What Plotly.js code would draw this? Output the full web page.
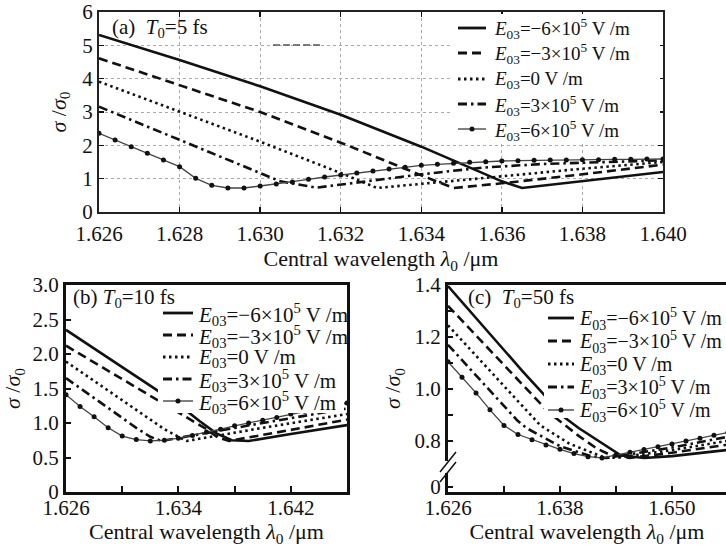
<!DOCTYPE html>
<html>
<head>
<meta charset="utf-8">
<script src="https://cdn.plot.ly/plotly-3.0.1.min.js"></script>
<style>
html,body{margin:0;padding:0;background:#fff;}
#chart{width:726px;height:547px;}
</style>
</head>
<body>
<div id="chart"></div>
<script>
// ---------- DATA ----------
const legendLabels = [
  '<i>E</i><sub>03</sub>=−6×10<sup>5</sup> V /m',
  '<i>E</i><sub>03</sub>=−3×10<sup>5</sup> V /m',
  '<i>E</i><sub>03</sub>=0 V /m',
  '<i>E</i><sub>03</sub>=3×10<sup>5</sup> V /m',
  '<i>E</i><sub>03</sub>=6×10<sup>5</sup> V /m'
];
const panelLabels = ['(a)  <i>T</i><sub>0</sub>=5 fs', '(b) <i>T</i><sub>0</sub>=10 fs', '(c)  <i>T</i><sub>0</sub>=50 fs'];

// Panel (a) T0 = 5 fs
const lamA_m6 = [1.626, 1.628, 1.630, 1.632, 1.634, 1.635, 1.636, 1.6365, 1.638, 1.640];
const sigA_m6 = [5.31, 4.56, 3.77, 2.92, 1.96, 1.45, 0.92, 0.72, 0.92, 1.20];
const lamA_m3 = [1.626, 1.628, 1.630, 1.632, 1.633, 1.634, 1.6348, 1.636, 1.638, 1.640];
const sigA_m3 = [4.61, 3.80, 3.00, 2.08, 1.58, 1.10, 0.72, 0.86, 1.13, 1.42];
const lamA_0 = [1.626, 1.628, 1.630, 1.631, 1.632, 1.6329, 1.634, 1.636, 1.638, 1.640];
const sigA_0 = [3.91, 3.02, 2.11, 1.64, 1.17, 0.72, 0.84, 1.07, 1.30, 1.50];
const lamA_3 = [1.626, 1.628, 1.630, 1.6305, 1.6314, 1.633, 1.634, 1.6355, 1.637, 1.640];
const sigA_3 = [3.16, 2.16, 1.16, 0.92, 0.73, 0.98, 1.13, 1.33, 1.44, 1.55];
const lamA_6 = [1.6260, 1.6264, 1.6268, 1.6272, 1.6276, 1.6280, 1.6284, 1.6288, 1.6292, 1.6296,
                1.6300, 1.6304, 1.6308, 1.6312, 1.6316, 1.6320, 1.6324, 1.6328, 1.6332, 1.6336,
                1.6340, 1.6344, 1.6348, 1.6352, 1.6356, 1.6360, 1.6364, 1.6368, 1.6372, 1.6376,
                1.6380, 1.6384, 1.6388, 1.6392, 1.6396, 1.6400];
const sigA_6 = [2.36, 2.16, 1.96, 1.76, 1.56, 1.36, 1.01, 0.80, 0.72, 0.72,
                0.78, 0.84, 0.90, 0.98, 1.05, 1.11, 1.17, 1.23, 1.29, 1.34,
                1.40, 1.43, 1.46, 1.49, 1.51, 1.53, 1.54, 1.55, 1.56, 1.56,
                1.57, 1.57, 1.58, 1.58, 1.59, 1.59];

// Panel (b) T0 = 10 fs
const lamB_m6 = [1.626, 1.630, 1.634, 1.6355, 1.6367, 1.6378, 1.639, 1.642, 1.646];
const sigB_m6 = [2.35, 1.81, 1.27, 1.03, 0.85, 0.75, 0.74, 0.84, 0.97];
const lamB_m3 = [1.626, 1.630, 1.634, 1.635, 1.636, 1.6368, 1.6376, 1.642, 1.646];
const sigB_m3 = [2.12, 1.64, 1.16, 1.04, 0.91, 0.79, 0.74, 0.90, 1.05];
const lamB_0 = [1.626, 1.630, 1.633, 1.634, 1.6346, 1.640, 1.646];
const sigB_0 = [1.89, 1.33, 0.91, 0.80, 0.74, 0.93, 1.13];
const lamB_3 = [1.626, 1.630, 1.631, 1.632, 1.6328, 1.640, 1.646];
const sigB_3 = [1.65, 1.07, 0.93, 0.80, 0.74, 1.00, 1.21];
const lamB_6 = [1.626, 1.627, 1.628, 1.629, 1.630, 1.631, 1.632, 1.633, 1.634, 1.635, 1.636,
                1.637, 1.638, 1.639, 1.640, 1.641, 1.642, 1.643, 1.644, 1.645, 1.646];
const sigB_6 = [1.41, 1.24, 1.09, 0.93, 0.81, 0.76, 0.74, 0.75, 0.78, 0.82, 0.87,
                0.91, 0.96, 1.00, 1.04, 1.08, 1.13, 1.17, 1.21, 1.25, 1.29];

// Panel (c) T0 = 50 fs
const lamC_m6 = [1.626, 1.630, 1.634, 1.6368, 1.6385, 1.640, 1.6425, 1.6445, 1.647, 1.650, 1.6558];
const sigC_m6 = [1.396, 1.232, 1.068, 0.958, 0.89, 0.85, 0.79, 0.745, 0.735, 0.742, 0.765];
const lamC_m3 = [1.626, 1.630, 1.634, 1.6368, 1.640, 1.642, 1.6435, 1.6455, 1.650, 1.6558];
const sigC_m3 = [1.32, 1.168, 1.016, 0.91, 0.82, 0.77, 0.745, 0.735, 0.755, 0.785];
const lamC_0 = [1.626, 1.630, 1.634, 1.6359, 1.639, 1.6425, 1.644, 1.650, 1.6558];
const sigC_0 = [1.245, 1.09, 0.935, 0.86, 0.79, 0.74, 0.735, 0.765, 0.80];
const lamC_3 = [1.626, 1.630, 1.6334, 1.6344, 1.638, 1.6415, 1.643, 1.650, 1.6558];
const sigC_3 = [1.17, 1.015, 0.88, 0.85, 0.78, 0.74, 0.735, 0.775, 0.815];
const lamC_6 = [1.6260, 1.6275, 1.6290, 1.6305, 1.6320, 1.6335, 1.6350, 1.6365, 1.6380, 1.6395, 1.6410,
                1.6425, 1.6440, 1.6455, 1.6470, 1.6485, 1.6500, 1.6515, 1.6530, 1.6545, 1.6560];
const sigC_6 = [1.105, 1.045, 0.985, 0.920, 0.860, 0.825, 0.805, 0.785, 0.768, 0.752, 0.740,
                0.735, 0.746, 0.757, 0.767, 0.778, 0.789, 0.800, 0.811, 0.822, 0.833];

const ticksA_x = [1.626, 1.628, 1.630, 1.632, 1.634, 1.636, 1.638, 1.640];
const ticksA_y = [0, 1, 2, 3, 4, 5, 6];
const ticksB_x = [1.626, 1.634, 1.642];
const ticksB_y = [0, 0.5, 1.0, 1.5, 2.0, 2.5, 3.0];
const ticksB_ytext = ['0', '0.5', '1.0', '1.5', '2.0', '2.5', '3.0'];
const ticksC_x = [1.626, 1.638, 1.650];
const ticksC_y = [0.625, 0.8, 1.0, 1.2, 1.4];
const ticksC_ytext = ['0', '0.8', '1.0', '1.2', '1.4'];

// ---------- STYLE ----------
const W = 726, H = 547;
const FONT = 'Liberation Serif, DejaVu Serif, serif';
const INK = '#111';
const styles = [
  {line: {color: INK, width: 2.6, dash: 'solid'}},
  {line: {color: INK, width: 2.6, dash: '9px,5px'}},
  {line: {color: INK, width: 2.6, dash: '2.5px,3.5px'}},
  {line: {color: INK, width: 2.6, dash: '9px,4px,2.5px,4px'}},
  {line: {color: '#444', width: 1.3, dash: 'solid'}, marker: {size: 5, color: INK}}
];

function tr(x, y, i, xa, ya) {
  const s = styles[i];
  const t = {x: x, y: y, xaxis: xa, yaxis: ya, type: 'scatter',
             mode: s.marker ? 'lines+markers' : 'lines',
             line: s.line, name: legendLabels[i], showlegend: false, hoverinfo: 'skip'};
  if (s.marker) t.marker = s.marker;
  return t;
}

const data = [
  tr(lamA_m6, sigA_m6, 0, 'x', 'y'), tr(lamA_m3, sigA_m3, 1, 'x', 'y'), tr(lamA_0, sigA_0, 2, 'x', 'y'),
  tr(lamA_3, sigA_3, 3, 'x', 'y'), tr(lamA_6, sigA_6, 4, 'x', 'y'),
  tr(lamB_m6, sigB_m6, 0, 'x2', 'y2'), tr(lamB_m3, sigB_m3, 1, 'x2', 'y2'), tr(lamB_0, sigB_0, 2, 'x2', 'y2'),
  tr(lamB_3, sigB_3, 3, 'x2', 'y2'), tr(lamB_6, sigB_6, 4, 'x2', 'y2'),
  tr(lamC_m6, sigC_m6, 0, 'x3', 'y3'), tr(lamC_m3, sigC_m3, 1, 'x3', 'y3'), tr(lamC_0, sigC_0, 2, 'x3', 'y3'),
  tr(lamC_3, sigC_3, 3, 'x3', 'y3'), tr(lamC_6, sigC_6, 4, 'x3', 'y3')
];

const px = v => v / W;
const py = v => 1 - v / H;

const shapes = [];
const annotations = [];

// manual legends: white box, sample lines, labels
function legend(box, sx0, sx1, tx, rows, fs) {
  shapes.push({type: 'rect', xref: 'paper', yref: 'paper', layer: 'above',
    x0: px(box[0]), x1: px(box[1]), y0: py(box[2]), y1: py(box[3]),
    fillcolor: '#fff', line: {width: 0}});
  rows.forEach((ry, i) => {
    const s = styles[i];
    shapes.push({type: 'line', xref: 'paper', yref: 'paper', layer: 'above',
      x0: px(sx0), x1: px(sx1), y0: py(ry), y1: py(ry),
      line: {color: i === 4 ? '#555' : INK, width: i === 4 ? 1.5 : 2.8, dash: s.line.dash}});
    if (i === 4) {
      const cx = (sx0 + sx1) / 2;
      shapes.push({type: 'circle', xref: 'paper', yref: 'paper', layer: 'above',
        x0: px(cx - 2.5), x1: px(cx + 2.5), y0: py(ry + 2.5), y1: py(ry - 2.5),
        fillcolor: INK, line: {width: 0}});
    }
    annotations.push({xref: 'paper', yref: 'paper', x: px(tx), y: py(ry + 1),
      xanchor: 'left', yanchor: 'middle', showarrow: false, text: legendLabels[i],
      font: {family: FONT, size: fs, color: INK}});
  });
}
legend([453, 660, 14, 141], 458, 486, 492, [28, 53, 79, 104, 129], 19);
legend([158, 344, 301, 413], 163, 193, 196, [313, 335, 357, 379, 401], 21);
legend([544, 726, 306, 418], 548, 574, 577, [318, 341, 364, 387, 410], 20);

// panel labels
[[110, 27], [71, 297], [466, 297]].forEach((p, i) => {
  annotations.push({xref: 'paper', yref: 'paper', x: px(p[0]), y: py(p[1] + 1),
    xanchor: 'left', yanchor: 'middle', showarrow: false, text: panelLabels[i],
    font: {family: FONT, size: 21, color: INK}});
});

// axis break marks on panel (c)
shapes.push({type: 'rect', xref: 'paper', yref: 'paper', layer: 'above',
  x0: px(444), x1: px(452), y0: py(473), y1: py(461), fillcolor: '#fff', line: {width: 0}});
shapes.push({type: 'line', xref: 'paper', yref: 'paper', layer: 'above',
  x0: px(440), y0: py(472), x1: px(456), y1: py(452), line: {color: INK, width: 1.5}});
shapes.push({type: 'line', xref: 'paper', yref: 'paper', layer: 'above',
  x0: px(440), y0: py(482), x1: px(456), y1: py(462), line: {color: INK, width: 1.5}});
// small stray dash fragment in panel (a)
shapes.push({type: 'line', xref: 'paper', yref: 'paper', layer: 'above',
  x0: px(273), x1: px(322), y0: py(45), y1: py(45), line: {color: '#555', width: 1.5, dash: '7px,3px'}});

const titleY = '<i>σ</i> /<i>σ</i><sub>0</sub>';
const titleX = 'Central wavelength <i>λ</i><sub>0</sub> /μm';
const tf = {family: FONT, size: 21, color: INK};
const ttf = {family: FONT, size: 22, color: INK};

const layout = {
  width: W, height: H,
  margin: {l: 0, r: 0, t: 0, b: 0},
  paper_bgcolor: '#fff', plot_bgcolor: '#fff',
  showlegend: false,
  font: {family: FONT, size: 21, color: INK},
  xaxis: {domain: [px(99), px(663)], anchor: 'y', range: [1.626, 1.640],
    tickmode: 'array', tickvals: ticksA_x, tickformat: '.3f', tickfont: tf,
    ticks: 'inside', ticklen: 5, tickwidth: 1.5, tickcolor: INK, mirror: 'ticks',
    showline: true, linewidth: 2, linecolor: '#222', zeroline: false,
    showgrid: true, gridcolor: '#aaa', griddash: 'dot', gridwidth: 1,
    ticklabelstandoff: 2,
    title: {text: titleX, font: ttf, standoff: 0}},
  yaxis: {domain: [py(212), py(12)], anchor: 'x', range: [0, 6],
    tickmode: 'array', tickvals: ticksA_y, tickfont: tf,
    ticks: 'inside', ticklen: 5, tickwidth: 1.5, tickcolor: INK, mirror: 'ticks',
    showline: true, linewidth: 2, linecolor: '#222', zeroline: false,
    showgrid: true, gridcolor: '#aaa', griddash: 'dot', gridwidth: 1,
    title: {text: titleY, font: ttf, standoff: 10}},
  xaxis2: {domain: [px(66), px(347)], anchor: 'y2', range: [1.626, 1.646],
    tickmode: 'array', tickvals: ticksB_x, tickformat: '.3f', tickfont: tf,
    ticks: 'inside', ticklen: 6, tickwidth: 2, tickcolor: INK,
    minor: {tickmode: 'array', tickvals: [1.630, 1.638, 1.646], ticks: 'inside', ticklen: 6, tickwidth: 2, tickcolor: INK, showgrid: false},
    showline: true, mirror: true, linewidth: 3, linecolor: INK, zeroline: false, showgrid: false,
    ticklabelstandoff: -5,
    title: {text: titleX, font: ttf, standoff: 7}},
  yaxis2: {domain: [py(492), py(285)], anchor: 'x2', range: [0, 3],
    tickmode: 'array', tickvals: ticksB_y, ticktext: ticksB_ytext, tickfont: tf,
    ticks: 'inside', ticklen: 5, tickwidth: 2, tickcolor: INK,
    showline: true, mirror: true, linewidth: 3, linecolor: INK, zeroline: false, showgrid: false,
    title: {text: titleY, font: ttf, standoff: 8}},
  xaxis3: {domain: [px(448), 1], anchor: 'y3', range: [1.626, 1.65579],
    tickmode: 'array', tickvals: ticksC_x, tickformat: '.3f', tickfont: tf,
    ticks: 'inside', ticklen: 6, tickwidth: 2, tickcolor: INK,
    minor: {tickmode: 'array', tickvals: [1.632, 1.644], ticks: 'inside', ticklen: 6, tickwidth: 2, tickcolor: INK, showgrid: false},
    showline: true, mirror: true, linewidth: 3, linecolor: INK, zeroline: false, showgrid: false,
    ticklabelstandoff: -5,
    title: {text: titleX, font: ttf, standoff: 7}},
  yaxis3: {domain: [py(492), py(285)], anchor: 'x3', range: [0.604, 1.4],
    tickmode: 'array', tickvals: ticksC_y, ticktext: ticksC_ytext, tickfont: tf,
    ticks: 'inside', ticklen: 5, tickwidth: 2, tickcolor: INK,
    minor: {tickmode: 'array', tickvals: [0.9, 1.1, 1.3], ticks: 'inside', ticklen: 5, tickwidth: 2, tickcolor: INK, showgrid: false},
    showline: true, mirror: false, linewidth: 3, linecolor: INK, zeroline: false, showgrid: false,
    title: {text: titleY, font: ttf, standoff: 8}},
  shapes: shapes,
  annotations: annotations
};

Plotly.newPlot('chart', data, layout, {staticPlot: true, displayModeBar: false});
</script>
</body>
</html>
